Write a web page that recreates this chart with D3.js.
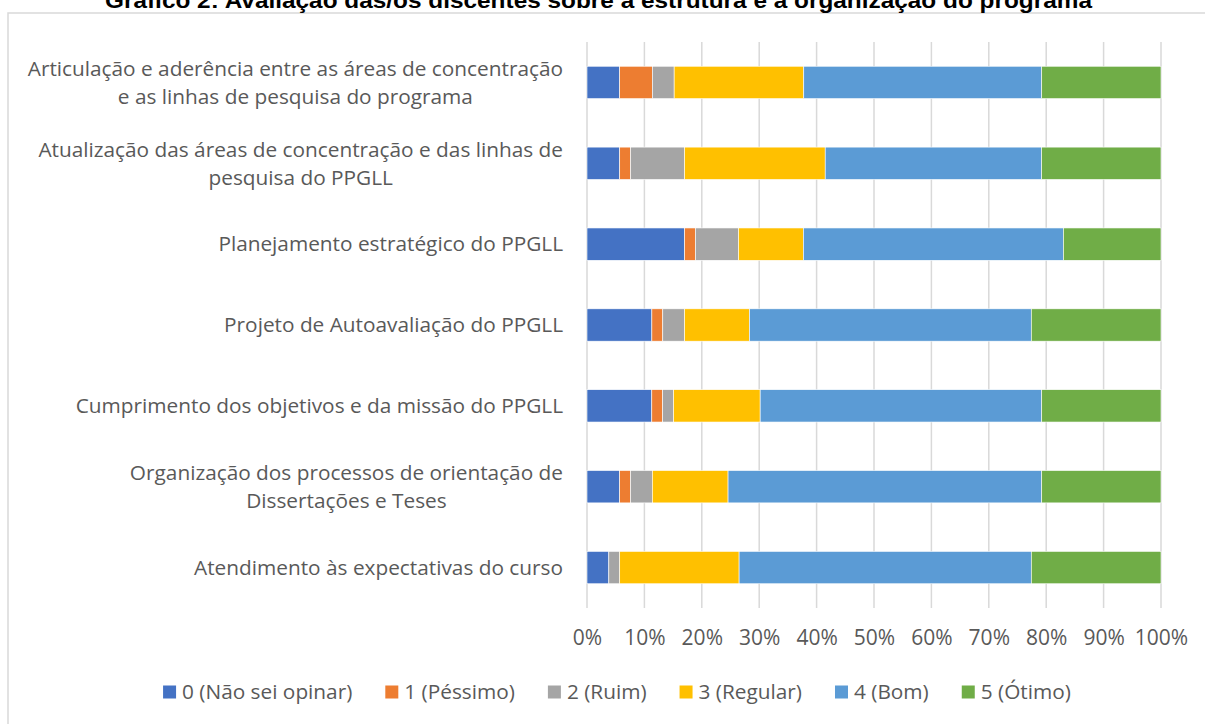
<!DOCTYPE html>
<html>
<head>
<meta charset="utf-8">
<script src="https://cdn.jsdelivr.net/npm/d3@7"></script>
<style>
	body { margin: 0; background: #fff; }
	svg { display: block; }
	.label { font-family: 'Open Sans', 'Noto Sans', sans-serif; font-size: 20.8px; fill: #595959; }
	.title { font-family: 'Liberation Sans Narrow', 'Arial Narrow', 'Liberation Sans', sans-serif; font-weight: bold; font-size: 22px; fill: #000; }
	.axis text { font-family: 'Open Sans', 'Noto Sans', sans-serif; font-size: 21px; fill: #595959; }
	.axis path { display: none; }
	.grid line { stroke: #d9d9d9; stroke-width: 1.5; }
	.frame { fill: none; stroke: #d9d9d9; stroke-width: 1.5; }
</style>
</head>
<body>
<div class="svg-container"></div>
<script>
var title = 'Gráfico 2: Avaliação das/os discentes sobre a estrutura e a organização do programa';

// categories, top to bottom
var categories = [
	'Articulação e aderência entre as áreas de concentração\ne as linhas de pesquisa do programa',
	'Atualização das áreas de concentração e das linhas de\npesquisa do PPGLL',
	'Planejamento estratégico do PPGLL',
	'Projeto de Autoavaliação do PPGLL',
	'Cumprimento dos objetivos e da missão do PPGLL',
	'Organização dos processos de orientação de\nDissertações e Teses',
	'Atendimento às expectativas do curso'
];

var seriesNames = ['0 (Não sei opinar)', '1 (Péssimo)', '2 (Ruim)', '3 (Regular)', '4 (Bom)', '5 (Ótimo)'];

// percentages, same order as categories
var naoSei  = [5.7, 5.7, 17.0, 11.3, 11.3, 5.7, 3.8];
var pessimo = [5.7, 1.9, 1.9, 1.9, 1.9, 1.9, 0];
var ruim    = [3.8, 9.4, 7.5, 3.8, 1.9, 3.8, 1.9];
var regular = [22.6, 24.5, 11.3, 11.3, 15.1, 13.2, 20.8];
var bom     = [41.5, 37.7, 45.3, 49.1, 49.1, 54.7, 50.9];
var otimo   = [20.8, 20.8, 17.0, 22.6, 20.8, 20.8, 22.6];

var tickValues = [0, 0.1, 0.2, 0.3, 0.4, 0.5, 0.6, 0.7, 0.8, 0.9, 1];

var colors = ['#4472C4', '#ED7D31', '#A5A5A5', '#FFC000', '#5B9BD5', '#70AD47'];

var Chart = function() {
	this.width = 1205;
	this.height = 724;
	this.plot = { left: 587, right: 1161, top: 42, bottom: 608 };
	this.labelRight = 563;
	this.lineHeight = 28;
	this.legendGap = 33;
};

Chart.prototype._table = function() {
	var cols = [naoSei, pessimo, ruim, regular, bom, otimo];
	return categories.map(function(c, i) {
		var row = { category: c };
		seriesNames.forEach(function(s, j) {
			row[s] = cols[j][i];
		});
		return row;
	});
};

Chart.prototype.draw = function() {
	var _this = this;
	var p = _this.plot;
	var table = _this._table();

	var stack = d3.stack()
		.keys(seriesNames)
		.offset(d3.stackOffsetExpand);
	var layers = stack(table);

	var xScale = d3.scaleLinear()
		.domain([0, 1])
		.range([p.left, p.right]);

	var yScale = d3.scaleBand()
		.domain(categories)
		.range([p.top, p.bottom])
		.paddingInner(0.6)
		.paddingOuter(0.3);

	var svg = d3.select('.svg-container')
		.append('svg')
		.attr('width', _this.width)
		.attr('height', _this.height);

	// chart frame
	svg.append('rect')
		.attr('class', 'frame')
		.attr('x', 8)
		.attr('y', 13)
		.attr('width', _this.width + 20)
		.attr('height', _this.height + 20);

	// title, partly cut at the top like the source
	svg.append('text')
		.attr('class', 'title')
		.attr('x', 105)
		.attr('y', 8)
		.attr('textLength', 987)
		.attr('lengthAdjust', 'spacingAndGlyphs')
		.text(title);

	// vertical gridlines
	svg.append('g')
		.attr('class', 'grid')
		.selectAll('line')
		.data(tickValues)
		.enter()
		.append('line')
		.attr('x1', function(d) { return xScale(d); })
		.attr('x2', function(d) { return xScale(d); })
		.attr('y1', p.top)
		.attr('y2', p.bottom);

	// bars
	svg.append('g')
		.selectAll('g')
		.data(layers)
		.enter()
		.append('g')
		.attr('fill', function(d, i) { return colors[i]; })
		.selectAll('rect')
		.data(function(d) { return d; })
		.enter()
		.append('rect')
		.attr('x', function(d) { return xScale(d[0]); })
		.attr('width', function(d) { return Math.max(0, xScale(d[1]) - xScale(d[0])); })
		.attr('y', function(d) { return yScale(d.data.category); })
		.attr('height', yScale.bandwidth())
		.attr('stroke', '#fff')
		.attr('stroke-width', 0.6);

	// x axis
	var xAxis = d3.axisBottom()
		.scale(xScale)
		.tickValues(tickValues)
		.tickSize(0)
		.tickPadding(22)
		.tickFormat(d3.format('.0%'));

	svg.append('g')
		.attr('class', 'axis')
		.attr('transform', 'translate(0, ' + p.bottom + ')')
		.call(xAxis);

	// category labels, lines centred on each other, block right-aligned
	categories.forEach(function(c) {
		var lines = c.split('\n');
		var cy = yScale(c) + yScale.bandwidth() / 2;
		var g = svg.append('g');
		var texts = lines.map(function(line, k) {
			return g.append('text')
				.attr('class', 'label')
				.attr('text-anchor', 'middle')
				.attr('dy', '0.35em')
				.attr('y', cy + (k - (lines.length - 1) / 2) * _this.lineHeight)
				.text(line);
		});
		var maxW = d3.max(texts, function(t) { return t.node().getComputedTextLength(); });
		texts.forEach(function(t) {
			t.attr('x', _this.labelRight - maxW / 2);
		});
	});

	// legend
	var legend = svg.append('g');
	var items = legend.selectAll('g')
		.data(seriesNames)
		.enter()
		.append('g');

	items.append('rect')
		.attr('width', 13)
		.attr('height', 13)
		.attr('y', -6.5)
		.attr('fill', function(d, i) { return colors[i]; });

	items.append('text')
		.attr('class', 'label')
		.attr('x', 19)
		.attr('dy', '0.35em')
		.text(function(d) { return d; });

	var offset = 0;
	items.each(function() {
		var item = d3.select(this);
		item.attr('transform', 'translate(' + offset + ', 0)');
		offset += 19 + item.select('text').node().getComputedTextLength() + _this.legendGap;
	});
	var total = offset - _this.legendGap;
	legend.attr('transform', 'translate(' + (617 - total / 2) + ', 692)');
};

new Chart().draw();
</script>
</body>
</html>
